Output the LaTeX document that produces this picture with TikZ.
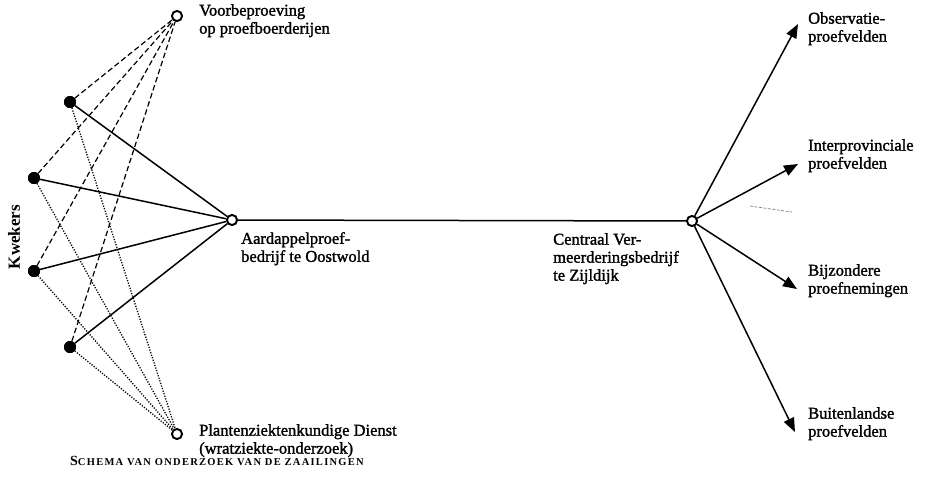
\documentclass[tikz,border=0pt]{standalone}
\usepackage{fontspec}
\setmainfont{Liberation Serif}
\newfontfamily\lblfont{Liberation Serif}[FakeBold=1.5]
\newfontfamily\capfont{Liberation Serif}[LetterSpace=12]
\usetikzlibrary{arrows.meta}
\begin{document}
\begin{tikzpicture}[x=1pt,y=-1pt,
  opennode/.style={circle,draw,line width=1.8pt,fill=white,inner sep=0pt,minimum size=10pt},
  dotnode/.style={circle,fill=black,inner sep=0pt,minimum size=12pt},
  solidlink/.style={line width=1.5pt},
  dashlink/.style={line width=1.2pt,dash pattern=on 5.5pt off 3pt},
  dotlink/.style={line width=1.3pt,dash pattern=on 1.2pt off 1.5pt},
  arrowlink/.style={line width=1.5pt,-{Triangle[length=14pt,width=11pt]}},
  lbl/.style={anchor=north west,inner sep=0pt,align=left,font=\lblfont\fontsize{16.5}{18}\selectfont}
]
\useasboundingbox (0,0) rectangle (944,480);
% main nodes
\node[opennode] (V) at (177,16) {};
\node[opennode] (P) at (177,434) {};
\node[dotnode] (K1) at (70,102) {};
\node[dotnode] (K2) at (34,178) {};
\node[dotnode] (K3) at (34,271) {};
\node[dotnode] (K4) at (70,347) {};
\node[opennode] (A) at (232,220) {};
\node[opennode] (C) at (692,221) {};
% arrow targets
\coordinate (T1) at (798,24);
\coordinate (T2) at (798,164);
\coordinate (T3) at (797,289);
\coordinate (T4) at (795,432);
% dashed to V
\foreach \k in {K1,K2,K3,K4} \draw[dashlink] (\k) -- (V);
% dotted to P
\foreach \k in {K1,K2,K3,K4} \draw[dotlink] (\k) -- (P);
% solid to A
\foreach \k in {K1,K2,K3,K4} \draw[solidlink] (\k) -- (A);
\draw[solidlink] (A) -- (C);
\foreach \t in {T1,T2,T3,T4} \draw[arrowlink] (C) -- (\t);
% redraw nodes on top
\node[opennode] at (V) {};
\node[opennode] at (P) {};
\node[opennode] at (A) {};
\node[opennode] at (C) {};
\foreach \k in {K1,K2,K3,K4} \node[dotnode] at (\k) {};
% stray mark
\coordinate (s1) at (750,206);
\coordinate (s2) at (792,212);
\draw[line width=0.7pt,gray,dash pattern=on 3pt off 1.5pt] (s1) -- (s2);
% labels
\node[lbl] (lV) at (199,4) {Voorbeproeving\\op proefboerderijen};
\node[lbl] (lA) at (241,232) {Aardappelproef-\\bedrijf te Oostwold};
\node[lbl] (lC) at (553,233) {Centraal Ver-\\meerderingsbedrijf\\te Zijldijk};
\node[lbl] (l1) at (808,12) {Observatie-\\proefvelden};
\node[lbl] (l2) at (808,139) {Interprovinciale\\proefvelden};
\node[lbl] (l3) at (808,264) {Bijzondere\\proefnemingen};
\node[lbl] (l4) at (808,407) {Buitenlandse\\proefvelden};
\node[lbl] (lP) at (199,424) {Plantenziektenkundige Dienst\\(wratziekte-onderzoek)};
\node[rotate=90,inner sep=0pt,font=\fontsize{17}{18}\selectfont\bfseries] (kw) at (14,237) {Kwekers};
\node[anchor=north west,inner sep=0pt] (cap) at (70,456) {\bfseries{\fontsize{14}{14}\selectfont S}{\capfont\bfseries\fontsize{10.5}{14}\selectfont CHEMA VAN ONDERZOEK VAN DE ZAAILINGEN}};
\end{tikzpicture}
\end{document}
